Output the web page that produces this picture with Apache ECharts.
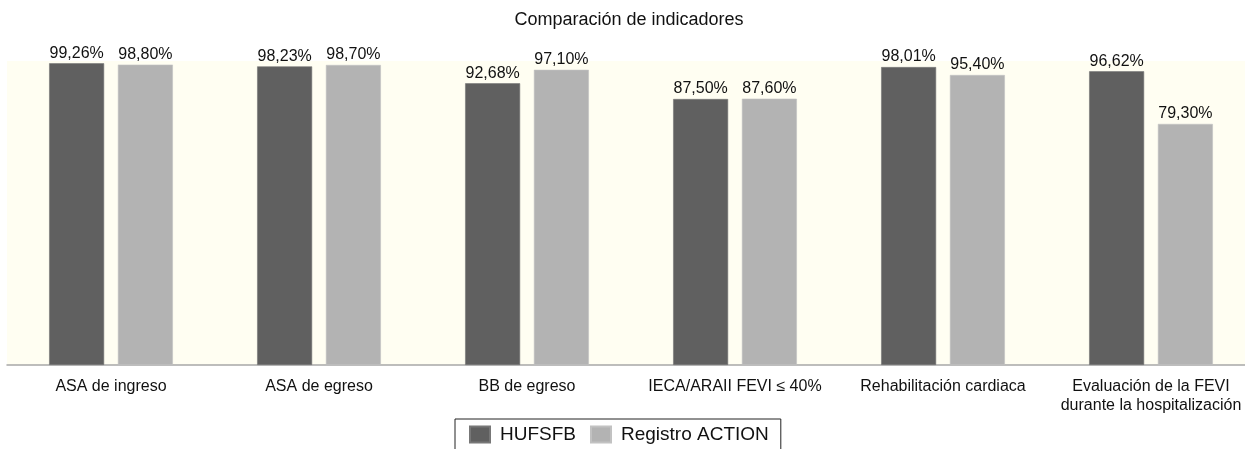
<!DOCTYPE html>
<html><head><meta charset="utf-8">
<script src="https://cdn.jsdelivr.net/npm/echarts@6/dist/echarts.min.js"></script>
<style>html,body{margin:0;padding:0;background:#fff;overflow:hidden;width:1245px;height:449px}#c{width:1258px;height:449px}</style>
</head><body><div id="c"></div>
<script>
const categories = ["ASA de ingreso", "ASA de egreso", "BB de egreso", "IECA/ARAII FEVI \u2264 40%", "Rehabilitación cardiaca", "Evaluación de la FEVI\ndurante la hospitalización"];
const seriesNames = ["HUFSFB", "Registro ACTION"];
const hufsfb = [99.26, 98.23, 92.68, 87.50, 98.01, 96.62];
const action = [98.80, 98.70, 97.10, 87.60, 95.40, 79.30];

const font = "'Liberation Sans', Arial, Helvetica, sans-serif";
const fmt = p => p.value.toFixed(2).replace('.', ',') + '%';
const chart = echarts.init(document.getElementById('c'), null, {renderer: 'canvas'});
chart.setOption({
  animation: false,
  textStyle: {fontFamily: font},
  title: {text: 'Comparación de indicadores', left: 'center', top: 6,
    textStyle: {fontSize: 18, fontWeight: 'normal', color: '#111', fontFamily: font}},
  legend: {left: 455, top: 419, padding: [6, 12, 12, 14], itemWidth: 20, itemHeight: 16, itemGap: 14,
    borderColor: '#222', borderWidth: 1, icon: 'rect',
    textStyle: {fontSize: 19, color: '#111', fontFamily: font, padding: [3, 0, 0, 5]}},
  grid: {left: 7, right: 3, top: 61, bottom: 84, show: true, backgroundColor: '#fffef2', borderWidth: 0},
  xAxis: {type: 'category', data: categories,
    axisLine: {lineStyle: {color: '#a8a8a8', width: 1.5}}, axisTick: {show: false},
    axisLabel: {interval: 0, fontSize: 16, color: '#111', margin: 12, lineHeight: 19, fontFamily: font}},
  yAxis: {type: 'value', min: 0, max: 100, show: false, splitLine: {show: false}},
  series: [
    {name: seriesNames[0], type: 'bar', data: hufsfb, barWidth: 55, barGap: '25%',
     itemStyle: {color: '#606060', borderColor: '#777', borderWidth: 0.6},
     label: {show: true, position: 'top', distance: 2, formatter: fmt, fontSize: 16, color: '#111', fontFamily: font}},
    {name: seriesNames[1], type: 'bar', data: action, barWidth: 55,
     itemStyle: {color: '#b3b3b3', borderColor: '#c2c2c2', borderWidth: 0.6},
     label: {show: true, position: 'top', distance: 2, formatter: fmt, fontSize: 16, color: '#111', fontFamily: font}}
  ]
});
</script></body></html>
